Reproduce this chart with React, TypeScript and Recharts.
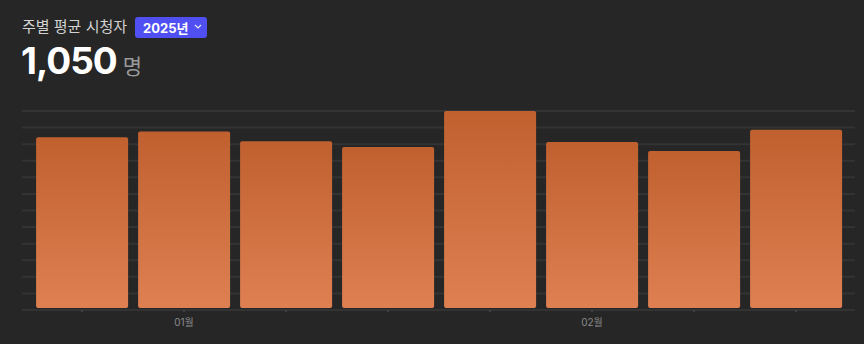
import React from 'react';
import { BarChart, Bar, XAxis, YAxis, CartesianGrid } from 'recharts';

const weeks = ['W1', 'W2', 'W3', 'W4', 'W5', 'W6', 'W7', 'W8'];
const monthLabels = ['', '01월', '', '', '', '02월', '', ''];
const viewers = [1045, 1080, 1020, 985, 1205, 1015, 960, 1090];

const chartData = weeks.map((week, i) => ({ week, viewers: viewers[i] }));

const FONT = 'Inter, "Noto Sans CJK KR", "Noto Sans", sans-serif';

export default function App() {
  return (
    <div
      style={{
        position: 'absolute',
        top: 0,
        left: 0,
        width: 864,
        height: 344,
        background: '#262626',
        fontFamily: FONT,
        overflow: 'hidden',
      }}
    >
      {/* header */}
      <div style={{ position: 'absolute', left: 22, top: 16, display: 'flex', alignItems: 'center' }}>
        <span style={{ color: '#d2d2d2', fontSize: 15, lineHeight: '22px' }}>주별 평균 시청자</span>
        <span
          style={{
            marginLeft: 8,
            background: '#4f4ff2',
            borderRadius: 3,
            height: 21,
            width: 72,
            boxSizing: 'border-box',
            padding: '0 0 0 8px',
            display: 'flex',
            alignItems: 'center',
            color: '#fff',
            fontWeight: 700,
            fontSize: 13,
          }}
        >
          2025년
          <svg width="8" height="6" style={{ marginLeft: 6 }}>
            <polyline points="1,1 4,4 7,1" fill="none" stroke="#e8e8ff" strokeWidth="1.2" />
          </svg>
        </span>
      </div>
      <div style={{ position: 'absolute', left: 21, top: 38, display: 'flex', alignItems: 'baseline' }}>
        <span style={{ color: '#fff', fontSize: 37, fontWeight: 700, letterSpacing: -1 }}>1,050</span>
        <span style={{ color: '#9a9a9a', fontSize: 21, marginLeft: 6 }}>명</span>
      </div>

      <div style={{ position: 'absolute', top: 0, left: 0 }}>
        <BarChart
          width={864}
          height={344}
          data={chartData}
          margin={{ top: 111, right: 9, bottom: 0, left: 22 }}
          barCategoryGap="5%"
        >
          <defs>
            <linearGradient id="barFill" x1="0" y1="0" x2="0" y2="1">
              <stop offset="0%" stopColor="#c0602f" />
              <stop offset="100%" stopColor="#de8052" />
            </linearGradient>
          </defs>
          <CartesianGrid
            vertical={false}
            stroke="#333333"
            strokeWidth={2}
            horizontalCoordinatesGenerator={({ offset }: any) =>
              Array.from({ length: 13 }, (_, i) => offset.top + (offset.height * i) / 12)
            }
          />
          <XAxis
            dataKey="week"
            height={34}
            padding={{ left: 9, right: 8 }}
            axisLine={false}
            tickSize={2}
            tickMargin={7}
            tickLine={{ stroke: '#555555' }}
            tick={{ fill: '#8a8a8a', fontSize: 10, fontFamily: FONT }}
            tickFormatter={(_v: string, i: number) => monthLabels[i]}
            interval={0}
          />
          <YAxis hide domain={[-12, 'dataMax']} />
          <Bar dataKey="viewers" fill="url(#barFill)" radius={2} isAnimationActive={false} />
        </BarChart>
      </div>
    </div>
  );
}
